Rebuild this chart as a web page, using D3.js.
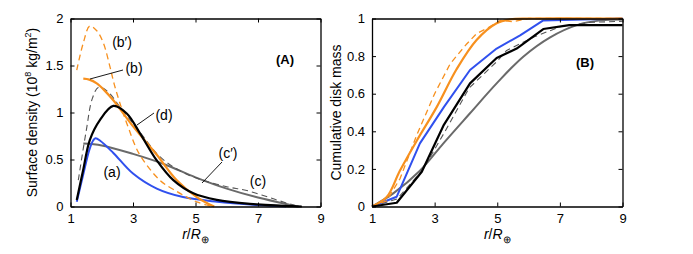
<!DOCTYPE html>
<html><head><meta charset="utf-8">
<script src="https://cdn.jsdelivr.net/npm/d3@7"></script>
<style>
html,body{margin:0;padding:0;background:#fff;}
svg{display:block;font-family:"Liberation Sans",Arial,Helvetica,sans-serif;}
</style></head>
<body><svg id="chart" width="693" height="254"></svg>
<script>
// ---------- Data ----------
const xTicks = [1, 3, 5, 7, 9];
const yTicksA = [0, 0.5, 1, 1.5, 2];
const yTicksB = [0, 0.2, 0.4, 0.6, 0.8, 1];

// Panel A: surface density (10^8 kg/m^2) vs r/R_earth
const rA_a = [1.2, 1.4, 1.6, 1.72, 1.8, 1.95, 2.37, 3.0, 3.76, 4.6, 5.7, 7.0, 7.9];
const sA_a = [0.05, 0.33, 0.6, 0.7, 0.725, 0.70, 0.57, 0.35, 0.19, 0.10, 0.05, 0.016, 0.0];
const rA_b = [1.41, 1.6, 1.84, 2.1, 2.37, 3.01, 3.76, 4.4, 5.04, 5.4, 5.6];
const sA_b = [1.36, 1.35, 1.31, 1.23, 1.13, 0.85, 0.55, 0.28, 0.10, 0.03, 0.0];
const rA_bp = [1.2, 1.41, 1.62, 1.84, 2.05, 2.26, 2.4, 2.6, 2.85, 3.2, 3.86, 4.4, 4.72, 5.04, 5.36, 5.5];
const sA_bp = [1.45, 1.74, 1.92, 1.87, 1.74, 1.49, 1.30, 1.08, 0.84, 0.56, 0.28, 0.16, 0.10, 0.05, 0.016, 0.0];
const rA_c = [1.41, 2, 3, 4, 5, 6, 7, 8, 8.3];
const sA_c = [0.67, 0.65, 0.56, 0.45, 0.31, 0.19, 0.095, 0.02, 0.0];
const rA_cp = [1.25, 1.5, 1.7, 1.9, 2.2, 2.6, 3.2, 3.86, 4.5, 5.14, 6, 6.64, 7.6, 8.2, 8.4];
const sA_cp = [0.28, 0.8, 1.15, 1.27, 1.22, 1.05, 0.80, 0.53, 0.38, 0.29, 0.21, 0.17, 0.07, 0.01, 0.0];
const rA_d = [1.2, 1.4, 1.62, 1.94, 2.37, 2.8, 3.22, 3.76, 4.29, 4.93, 5.68, 6.74, 8.1, 8.4];
const sA_d = [0.07, 0.38, 0.71, 0.92, 1.07, 0.99, 0.78, 0.49, 0.28, 0.14, 0.07, 0.027, 0.003, 0.0];

// Panel B: cumulative disk mass
const rB_a = [1, 1.79, 2.53, 3.3, 4.13, 4.98, 5.73, 6.47, 9];
const mB_a = [0, 0.052, 0.336, 0.53, 0.726, 0.84, 0.91, 0.99, 1.0];
const rB_b = [1, 1.47, 1.89, 2.43, 3.07, 3.7, 4.34, 4.98, 5.4, 6, 9];
const mB_b = [0, 0.05, 0.19, 0.35, 0.53, 0.73, 0.886, 0.975, 0.995, 1, 1];
const rB_bp = [1, 1.47, 1.9, 2.43, 3.0, 3.5, 4.0, 4.34, 4.7, 5.1, 5.5, 6, 9];
const mB_bp = [0, 0.03, 0.15, 0.38, 0.6, 0.76, 0.86, 0.92, 0.95, 0.99, 0.983, 1, 1];
const rB_c = [1, 1.68, 2.53, 3.28, 4.13, 4.98, 5.83, 6.69, 7.54, 8.3, 9];
const mB_c = [0, 0.07, 0.19, 0.336, 0.496, 0.655, 0.797, 0.90, 0.965, 0.99, 0.995];
const rB_cp = [1, 1.8, 2.6, 3.3, 4.1, 4.98, 5.3, 6.15, 7.0, 8.0, 9];
const mB_cp = [0, 0.04, 0.19, 0.39, 0.63, 0.77, 0.83, 0.90, 0.956, 0.98, 0.985];
const rB_d = [1, 1.79, 2.59, 3.28, 4.13, 4.98, 5.62, 6.47, 7.3, 9];
const mB_d = [0, 0.02, 0.185, 0.43, 0.655, 0.79, 0.84, 0.944, 0.965, 0.965];

const ORANGE = "#f7901e", BLUE = "#3050ee", GRAY = "#6a6a6a", DGRAY = "#555555", BLACK = "#000000";

// ---------- Layout ----------
const svg = d3.select("#chart");
const pA = {x0: 70.5, x1: 320.5, y0: 18.5, y1: 206.5};
const pB = {x0: 372, x1: 622.5, y0: 18.5, y1: 206.5};

function zip(xs, ys){ return xs.map((x,i)=>[x, ys[i]]); }

function panel(p, yDomain){
  const x = d3.scaleLinear().domain([1, 9]).range([p.x0, p.x1]);
  const y = d3.scaleLinear().domain(yDomain).range([p.y1, p.y0]);
  const g = svg.append("g");
  return {x, y, g};
}

function drawAxes(P, yTicks, yFmt){
  const {x, y, g} = P;
  const ax = g.append("g");
  ax.append("g").attr("transform", `translate(0,${y.range()[0]})`)
    .call(d3.axisBottom(x).tickValues(xTicks).tickSize(-4).tickSizeOuter(0).tickPadding(7).tickFormat(d3.format("d")));
  ax.append("g").attr("transform", `translate(0,${y.range()[1]})`)
    .call(d3.axisTop(x).tickValues(xTicks).tickSize(-4).tickSizeOuter(0).tickFormat(""));
  ax.append("g").attr("transform", `translate(${x.range()[0]},0)`)
    .call(d3.axisLeft(y).tickValues(yTicks).tickSize(-4).tickSizeOuter(0).tickPadding(7).tickFormat(yFmt));
  ax.append("g").attr("transform", `translate(${x.range()[1]},0)`)
    .call(d3.axisRight(y).tickValues(yTicks).tickSize(-4).tickSizeOuter(0).tickFormat(""));
  ax.selectAll(".domain").attr("stroke", "#000").attr("stroke-width", 1.3);
  ax.selectAll(".tick line").attr("stroke", "#000").attr("stroke-width", 1);
  ax.selectAll(".tick text").attr("font-size", 13).attr("fill", "#000")
    .attr("font-family", "'Liberation Sans',Arial,sans-serif");
  // x-axis label r/R⊕
  const lbl = g.append("text").attr("x", (x.range()[0]+x.range()[1])/2).attr("y", 239)
    .attr("text-anchor", "middle").attr("font-size", 14);
  lbl.append("tspan").attr("font-style", "italic").text("r");
  lbl.append("tspan").text("/");
  lbl.append("tspan").attr("font-style", "italic").text("R");
  lbl.append("tspan").attr("font-size", 10).attr("dy", 4).text("⊕");
}

function drawLine(P, xs, ys, color, width, dash, curve){
  const line = d3.line().x(d=>P.x(d[0])).y(d=>P.y(d[1])).curve(curve);
  P.g.append("path").datum(zip(xs, ys)).attr("d", line)
    .attr("fill", "none").attr("stroke", color).attr("stroke-width", width)
    .attr("stroke-dasharray", dash || null).attr("stroke-linejoin", "round").attr("stroke-linecap", "butt");
}

// ---------- Panel A ----------
const A = panel(pA, [0, 2]);
const smooth = d3.curveCatmullRom.alpha(0.5);
drawLine(A, rA_c, sA_c, GRAY, 2, null, smooth);
drawLine(A, rA_cp, sA_cp, DGRAY, 1.1, "6,4", smooth);
drawLine(A, rA_a, sA_a, BLUE, 2, null, smooth);
drawLine(A, rA_bp, sA_bp, ORANGE, 1.3, "6,4", smooth);
drawLine(A, rA_b, sA_b, ORANGE, 2.2, null, smooth);
drawLine(A, rA_d, sA_d, BLACK, 2.2, null, smooth);
drawAxes(A, yTicksA, d => d === 0 ? "0" : String(d));

// annotations A
function ann(txt, px, py){
  svg.append("text").attr("x", px).attr("y", py).attr("text-anchor", "middle")
    .attr("font-size", 14).attr("fill", "#000").text(txt);
}
function leader(x1,y1,x2,y2){
  svg.append("line").attr("x1",x1).attr("y1",y1).attr("x2",x2).attr("y2",y2)
    .attr("stroke","#000").attr("stroke-width",0.9);
}
ann("(b\u2032)", 122, 47);
ann("(b)", 134, 73);
leader(90, 79, 123, 70);
ann("(d)", 164, 120);
leader(137, 125, 154, 113);
ann("(a)", 112, 177);
ann("(c\u2032)", 228, 158);
leader(222, 162, 202, 183);
ann("(c)", 258, 186);
svg.append("text").attr("x", 285).attr("y", 64).attr("text-anchor","middle")
  .attr("font-size", 13).attr("font-weight","bold").text("(A)");

// y label A
const yl = svg.append("text").attr("transform", "translate(37,112.5) rotate(-90)")
  .attr("text-anchor", "middle").attr("font-size", 14);
yl.append("tspan").text("Surface density (10");
yl.append("tspan").attr("font-size", 9).attr("dy", -6).text("8");
yl.append("tspan").attr("dy", 6).text(" kg/m");
yl.append("tspan").attr("font-size", 9).attr("dy", -6).text("2");
yl.append("tspan").attr("dy", 6).text(")");

// ---------- Panel B ----------
const B = panel(pB, [0, 1]);
const lin = d3.curveLinear;
drawLine(B, rB_c, mB_c, GRAY, 2, null, smooth);
drawLine(B, rB_cp, mB_cp, DGRAY, 1.1, "6,4", lin);
drawLine(B, rB_a, mB_a, BLUE, 2, null, lin);
drawLine(B, rB_bp, mB_bp, ORANGE, 1.3, "6,4", lin);
drawLine(B, rB_b, mB_b, ORANGE, 2.2, null, smooth);
drawLine(B, rB_d, mB_d, BLACK, 2.2, null, lin);
drawAxes(B, yTicksB, d => d === 0 ? "0" : d === 1 ? "1" : d3.format(".1f")(d));
svg.append("text").attr("x", 585).attr("y", 67).attr("text-anchor","middle")
  .attr("font-size", 13).attr("font-weight","bold").text("(B)");
svg.append("text").attr("transform", "translate(341,112.5) rotate(-90)")
  .attr("text-anchor", "middle").attr("font-size", 14).text("Cumulative disk mass");
</script></body></html>
